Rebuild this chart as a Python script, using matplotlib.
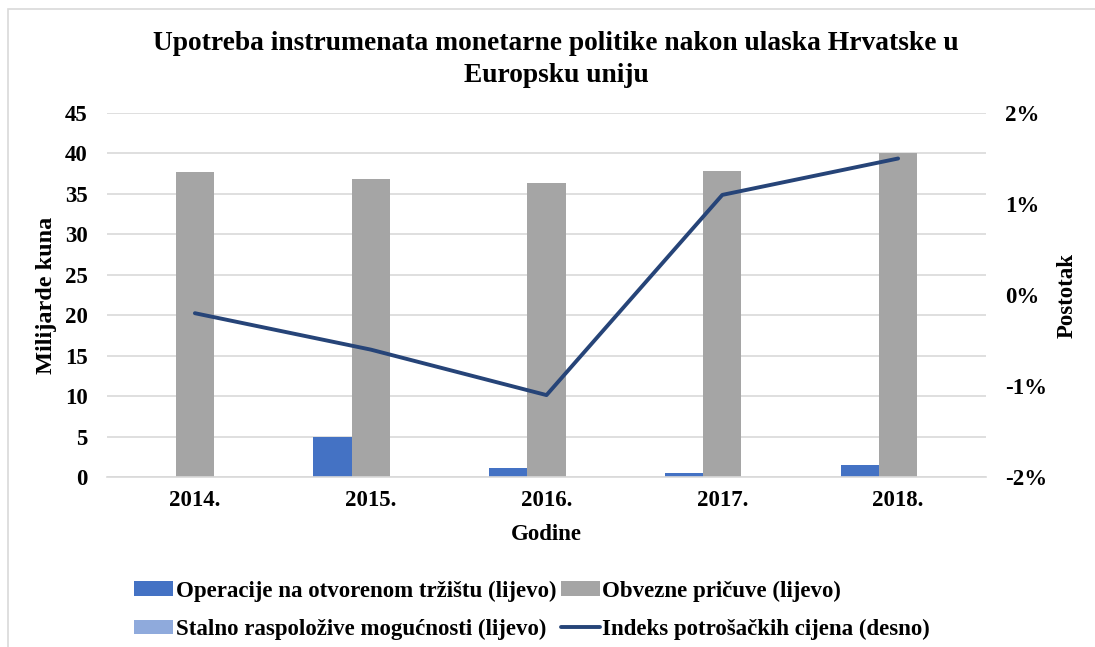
import matplotlib.pyplot as plt
from matplotlib.patches import Rectangle
import numpy as np

godine = ['2014.', '2015.', '2016.', '2017.', '2018.']
operacije = [0.0, 4.9, 1.1, 0.5, 1.5]        # Operacije na otvorenom tržištu
obvezne = [37.7, 36.8, 36.3, 37.8, 40.0]     # Obvezne pričuve
stalno = [0.0, 0.0, 0.0, 0.0, 0.0]            # Stalno raspoložive mogućnosti
indeks = [-0.2, -0.6, -1.1, 1.1, 1.5]         # Indeks potrošačkih cijena (%)

plt.rcParams['font.family'] = ['Liberation Serif', 'DejaVu Serif']
plt.rcParams['font.weight'] = 'bold'
fs = 16.5

c_blue = '#4472c4'
c_gray = '#a5a5a5'
c_light = '#8faadc'
c_line = '#264478'
c_grid = '#d9d9d9'

fig = plt.figure(figsize=(10.95, 6.47), dpi=100)
fig.patches.append(Rectangle((8/1095, -0.05), 1.2, 1.05 - 9/647, transform=fig.transFigure,
                             fill=False, edgecolor='#d9d9d9', lw=1.2))

ax = fig.add_axes([107/1095, 1 - 477/647, 879/1095, 364/647])
x = np.arange(len(godine))
w = 0.218
b1 = ax.bar(x - w, operacije, w, color=c_blue, label='Operacije na otvorenom tržištu (lijevo)')
b2 = ax.bar(x, obvezne, w, color=c_gray, label='Obvezne pričuve (lijevo)')
b3 = ax.bar(x + w, stalno, w, color=c_light, label='Stalno raspoložive mogućnosti (lijevo)')

ax.set_xlim(-0.5, len(godine) - 0.5)
ax.set_ylim(0, 45)
ax.set_yticks(range(0, 50, 5))
ax.set_xticks(x)
ax.set_xticklabels(godine)
ax.grid(axis='y', color=c_grid, lw=1.2)
ax.set_axisbelow(True)
for s in ['top', 'left', 'right']:
    ax.spines[s].set_visible(False)
ax.spines['bottom'].set_color(c_grid)
ax.spines['bottom'].set_linewidth(1.2)
ax.tick_params(axis='both', length=0, labelsize=fs)
ax.tick_params(axis='y', pad=14)
ax.tick_params(axis='x', pad=9)
ax.set_ylabel('Milijarde kuna', fontsize=17.5, fontweight='bold', va='center')
ax.yaxis.set_label_coords(-0.0683, 0.5)
ax.set_xlabel('Godine', fontsize=fs, fontweight='bold', labelpad=10)

ax2 = ax.twinx()
ln, = ax2.plot(x, indeks, color=c_line, lw=2.8, solid_capstyle='round',
               label='Indeks potrošačkih cijena (desno)')
ax2.set_ylim(-2, 2)
ax2.set_yticks([-2, -1, 0, 1, 2])
ax2.set_yticklabels(['-2%', '-1%', '0%', '1%', '2%'])
ax2.tick_params(axis='y', length=0, labelsize=fs, pad=14)
for s in ax2.spines.values():
    s.set_visible(False)
ax2.set_ylabel('Postotak', fontsize=fs, fontweight='bold', va='center')
ax2.yaxis.set_label_coords(1.0922, 0.5)

fig.text(0.508, 1 - 43/647, 'Upotreba instrumenata monetarne politike nakon ulaska Hrvatske u',
         ha='center', va='center', fontsize=19.8, fontweight='bold')
fig.text(0.508, 1 - 75/647, 'Europsku uniju',
         ha='center', va='center', fontsize=19.8, fontweight='bold')

handles = [b1, b3, b2, ln]
labels = [h.get_label() for h in handles]
fig.legend(handles, labels, ncol=2, loc='upper left', bbox_to_anchor=(123/1095, 1 - 569/647),
           frameon=False, fontsize=fs, handlelength=1.7, handleheight=0.6,
           handletextpad=0.1, columnspacing=0.2, labelspacing=0.75, borderpad=0)

fig.savefig('out.png', dpi=100)
